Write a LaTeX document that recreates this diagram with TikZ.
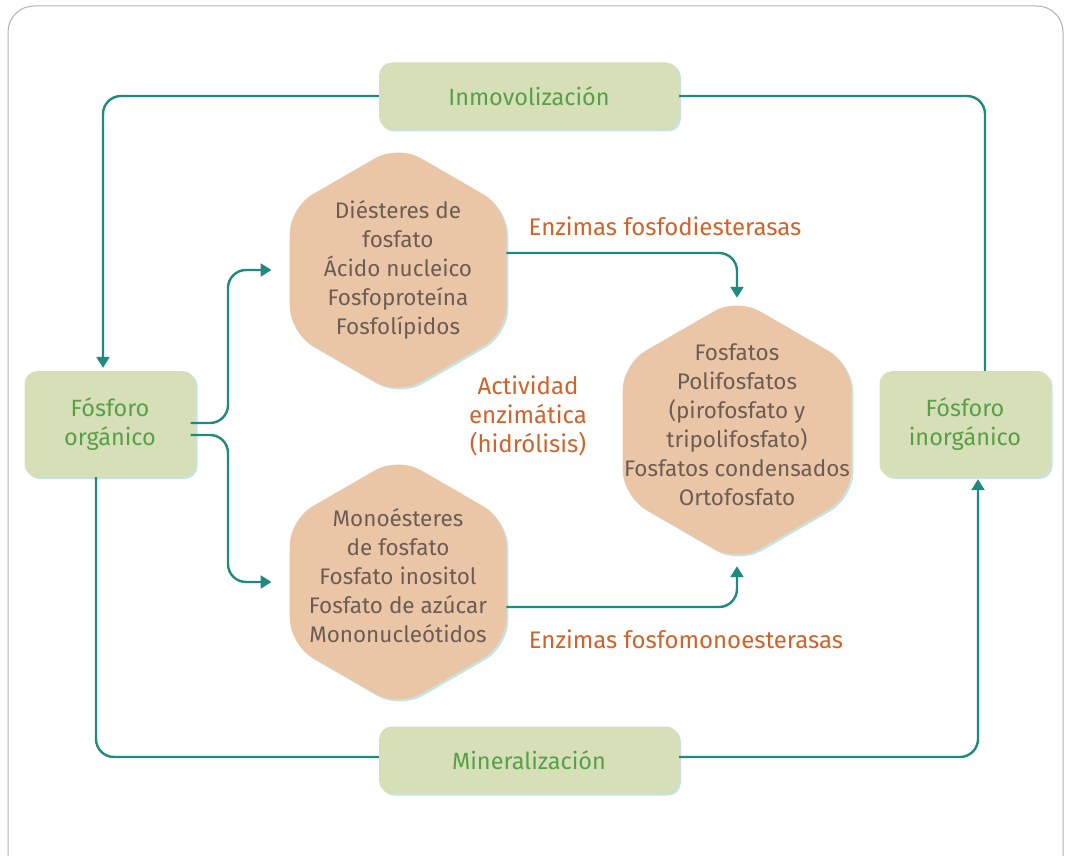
\documentclass[tikz,border=0pt]{standalone}
\usepackage{fontspec}
\setmainfont{Fira Sans}
\usetikzlibrary{positioning,shapes.geometric,arrows.meta,shadows}

\definecolor{flecha}{HTML}{1F8A80}
\definecolor{verdecaja}{HTML}{D6DFB8}
\definecolor{verdetexto}{HTML}{58A047}
\definecolor{melocoton}{HTML}{EBC6A6}
\definecolor{gristexto}{HTML}{6B5D55}
\definecolor{naranja}{HTML}{D0632A}

\tikzset{
  caja/.style={fill=verdecaja, rounded corners=13pt, text=verdetexto, align=center,
    font=\fontsize{23.5}{29}\selectfont,
    drop shadow={shadow xshift=2pt, shadow yshift=-2pt, fill=flecha!45, opacity=.55}},
  hexa/.style={regular polygon, regular polygon sides=6, shape border rotate=30,
    inner sep=0pt, minimum size=250pt, fill=melocoton, rounded corners=26pt,
    drop shadow={shadow xshift=2pt, shadow yshift=-2pt, fill=flecha!45, opacity=.55}},
  hextexto/.style={text=gristexto, align=center, font=\fontsize{22.5}{29}\selectfont},
  enzima/.style={text=naranja, align=center, font=\fontsize{24}{29}\selectfont}
}

\begin{document}
\begin{tikzpicture}[x=1pt,y=-1pt,node distance=2cm,on grid,
    flujo/.style={draw=flecha,line width=2.4pt,rounded corners=18pt},
    punta/.style={-{Triangle[length=11pt,width=13pt]}}]
   \useasboundingbox (0,0) rectangle (1066,856);
   \clip (0,0) rectangle (1066,856);
   \draw[black!30, line width=1pt, rounded corners=26pt] (8,6) rectangle (1063,890);

   \node[caja,minimum width=171pt,minimum height=106pt] (org) at (110,424) {Fósforo\\orgánico};
   \node[caja,minimum width=171pt,minimum height=106pt] (inorg) [right=855pt of org] {Fósforo\\inorgánico};
   \node[caja,minimum width=300pt,minimum height=67pt] (inmov) at (529,96) {Inmovolización};
   \node[caja,minimum width=300pt,minimum height=67pt] (miner) [below=664pt of inmov] {Mineralización};

   \node[hexa,label={[hextexto]center:{Diésteres de\\fosfato\\Ácido nucleico\\Fosfoproteína\\Fosfolípidos}}]
      (diester) [above right=154pt and 288pt of org] {};
   \node[hexa,label={[hextexto,yshift=6pt]center:{Monoésteres\\de fosfato\\Fosfato inositol\\Fosfato de azúcar\\Mononucleótidos}}]
      (monoester) [below=312pt of diester] {};
   % the product hexagon is a bit larger
   \node[hexa,minimum size=264pt,label={[hextexto,yshift=5pt]center:{Fosfatos\\Polifosfatos\\(pirofosfato y\\tripolifosfato)\\Fosfatos condensados\\Ortofosfato}}]
      (fosfatos) at (737,430) {};

   \node[enzima] (diesterasa) at (665,226) {Enzimas fosfodiesterasas};
   \node[enzima] (hidrolisis) at (528,416) {Actividad\\enzimática\\(hidrólisis)};
   \node[enzima] (monoesterasa) at (686,639) {Enzimas fosfomonoesterasas};

   \coordinate (rama) at (228,424);

   \draw[flujo,punta] (inmov.west) -| ([xshift=-7pt,yshift=3pt]org.north);
   \draw[flujo] ([xshift=20pt]inorg.north) |- (inmov.east);
   \draw[flujo] ([xshift=-14pt]org.south) |- ([yshift=3pt]miner.west);
   \draw[flujo,punta] ([yshift=3pt]miner.east) -| ([xshift=13pt,yshift=-2pt]inorg.south);

   \draw[flujo,punta,shorten >=18pt] ([xshift=-5pt,yshift=1pt]org.east) -| (rama |- diester.west) -- (diester.west);
   \draw[flujo,punta,shorten >=18pt] ([xshift=-5pt,yshift=-11pt]org.east) -| (rama |- monoester.west) -- (monoester.west);
   \draw[flujo,punta] ([yshift=17pt]diester.east) -| (fosfatos.north);
   \draw[flujo,punta] ([yshift=-25pt]monoester.east) -| ([yshift=-4pt]fosfatos.south);
\end{tikzpicture}
\end{document}
